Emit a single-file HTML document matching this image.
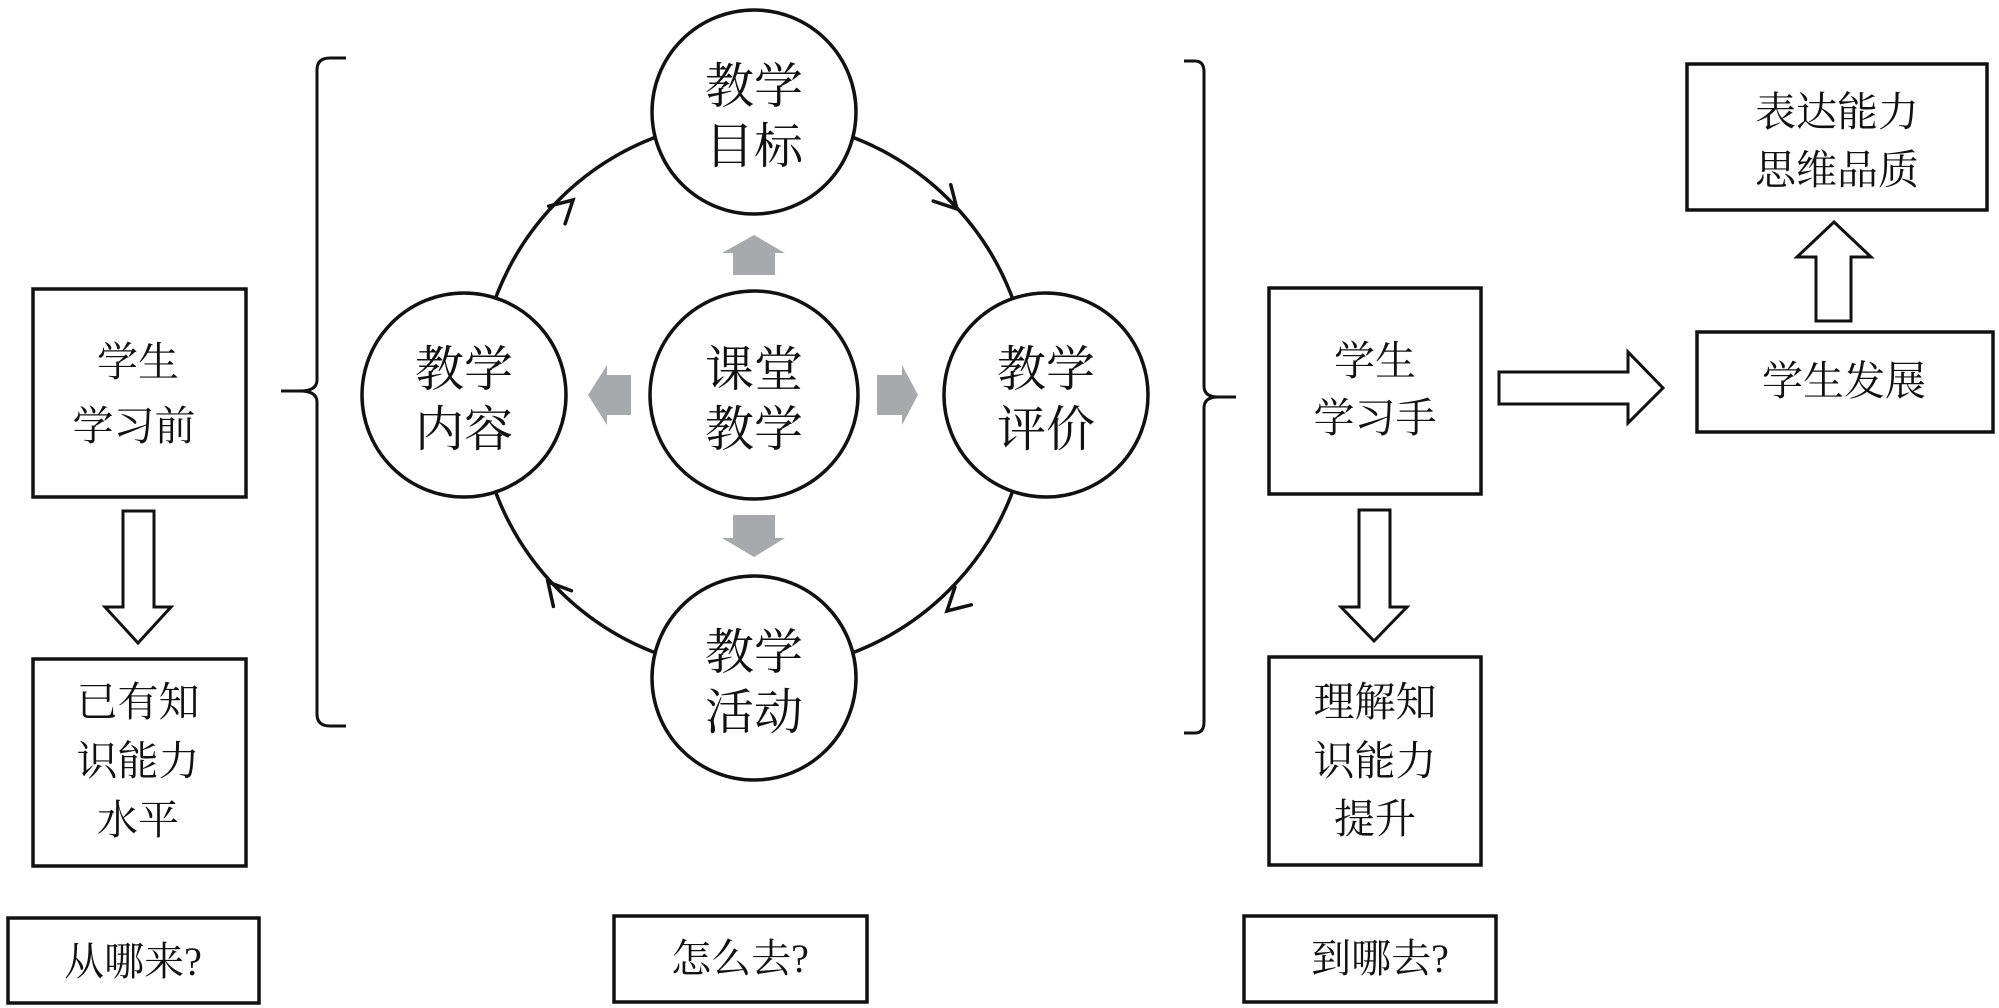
<!DOCTYPE html>
<html><head><meta charset="utf-8"><style>
html,body{margin:0;padding:0;background:#fff;}
svg{display:block;}
text{font-family:"Liberation Serif","Noto Serif CJK SC",serif;fill:#111;text-anchor:middle;}
</style></head><body>
<svg width="1999" height="1008" viewBox="0 0 1999 1008" xmlns="http://www.w3.org/2000/svg">
<g fill="none" stroke="#111" stroke-width="3.5">
<!-- left boxes -->
<rect x="33" y="289" width="213" height="208"/>
<rect x="33" y="659" width="213" height="207"/>
<rect x="8" y="918" width="251" height="85"/>
<!-- left down arrow -->
<polygon points="123,511 154,511 154,607 171,607 138,643 105,607 123,607" stroke-width="3"/>
<!-- left bracket -->
<path d="M346,58 L330,58 Q317,58 317,70 L317,380 Q317,391 300,391 L281,391 M300,391 Q317,391 317,402 L317,714 Q317,726 330,726 L346,726" stroke-width="3"/>
<!-- big circle -->
<circle cx="754" cy="395" r="276" stroke-width="3.5"/>
<!-- right bracket -->
<path d="M1184,61 L1195,61 Q1204,61 1204,72 L1204,386 Q1204,397 1218,397 L1236,397 M1218,397 Q1204,397 1204,408 L1204,722 Q1204,733 1195,733 L1184,733" stroke-width="3"/>
<!-- right boxes -->
<rect x="1269" y="288" width="212" height="206"/>
<rect x="1269" y="657" width="212" height="208"/>
<rect x="1244" y="916" width="252" height="86"/>
<polygon points="1359,510 1390,510 1390,607 1407,607 1374,641 1341,607 1359,607" stroke-width="3"/>
<polygon points="1499,372 1628,372 1628,352 1663,388 1628,423 1628,404 1499,404" stroke-width="3"/>
<rect x="1697" y="332" width="296" height="100"/>
<polygon points="1816,321 1851,321 1851,257 1871,257 1834,222 1797,257 1816,257" stroke-width="3"/>
<rect x="1687" y="64" width="300" height="146"/>
<!-- bottom middle box -->
<rect x="614" y="916" width="253" height="86"/>
<!-- circle arrowheads -->
<g stroke-width="3.5" stroke-linecap="round">
<polyline transform="translate(573,200) rotate(-43)" points="-22,-12 0,0 -22,12"/>
<polyline transform="translate(957,209) rotate(47)" points="-22,-12 0,0 -22,12"/>
<polyline transform="translate(947,611) rotate(137)" points="-22,-12 0,0 -22,12"/>
<polyline transform="translate(548,582) rotate(229)" points="-22,-12 0,0 -22,12"/>
</g>
</g>
<!-- node circles -->
<g fill="#fff" stroke="#111" stroke-width="3.5">
<circle cx="754" cy="112" r="102"/>
<circle cx="464" cy="395" r="102"/>
<circle cx="754" cy="395" r="104"/>
<circle cx="1046" cy="395" r="102"/>
<circle cx="754" cy="678" r="102"/>
</g>
<!-- gray arrows -->
<g fill="#a8a9ad">
<polygon points="733,275 775,275 775,253 785,253 754,235 722,253 733,253"/>
<polygon points="631,375 631,415 607,415 607,425 588,395 607,365 607,375"/>
<polygon points="877,375 877,415 902,415 902,425 918,395 902,365 902,375"/>
<polygon points="733,515 775,515 775,538 785,538 754,557 722,538 733,538"/>
</g>
<!-- circle text -->
<g font-size="49">
<text x="754" y="103">教学</text><text x="754" y="163">目标</text>
<text x="464" y="386">教学</text><text x="464" y="446">内容</text>
<text x="754" y="386">课堂</text><text x="754" y="446">教学</text>
<text x="1046" y="386">教学</text><text x="1046" y="446">评价</text>
<text x="754" y="669">教学</text><text x="754" y="729">活动</text>
</g>
<g font-size="41">
<text x="138" y="376">学生</text><text x="134" y="440">学习前</text>
<text x="138" y="716">已有知</text><text x="138" y="775">识能力</text><text x="138" y="834">水平</text>
<text x="1375" y="375">学生</text><text x="1375" y="432">学习手</text>
<text x="1375" y="716">理解知</text><text x="1375" y="775">识能力</text><text x="1375" y="833">提升</text>
<text x="1844" y="395">学生发展</text>
<text x="1837" y="126">表达能力</text><text x="1837" y="184">思维品质</text>
</g>
<g font-size="40">
<text x="133" y="975">从哪来?</text>
<text x="740" y="972">怎么去?</text>
<text x="1380" y="972">到哪去?</text>
</g>
</svg>
</body></html>
